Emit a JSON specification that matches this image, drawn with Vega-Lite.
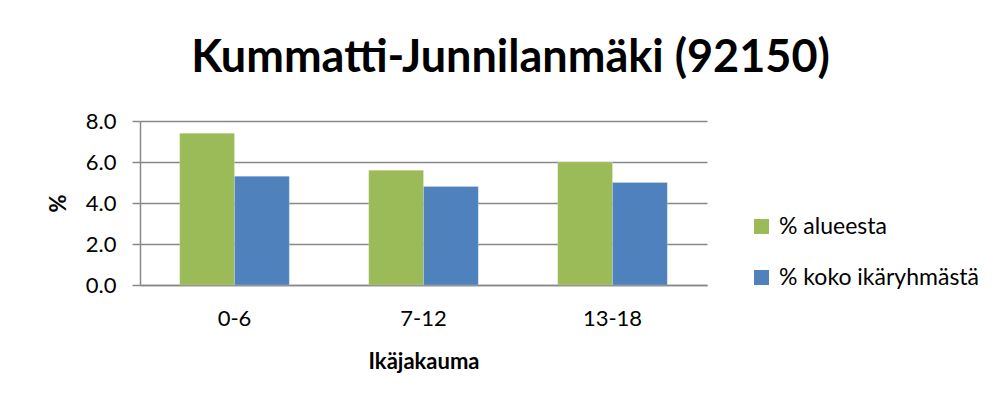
{
  "$schema": "https://vega.github.io/schema/vega-lite/v6.json",
  "width": 567,
  "height": 164,
  "autosize": {"type": "none"},
  "padding": {"left": 140, "top": 121, "right": 294, "bottom": 118},
  "background": "white",
  "title": {
    "text": "Kummatti-Junnilanmäki (92150)",
    "font": "Lato",
    "fontSize": 45,
    "fontWeight": "bold",
    "color": "#000000",
    "anchor": "middle",
    "frame": "group",
    "dx": 87,
    "offset": 29
  },
  "data": {
    "values": [
      {"age": "0-6", "series": "% alueesta", "value": 7.4},
      {"age": "0-6", "series": "% koko ikäryhmästä", "value": 5.3},
      {"age": "7-12", "series": "% alueesta", "value": 5.6},
      {"age": "7-12", "series": "% koko ikäryhmästä", "value": 4.8},
      {"age": "13-18", "series": "% alueesta", "value": 6.0},
      {"age": "13-18", "series": "% koko ikäryhmästä", "value": 5.0}
    ]
  },
  "mark": {"type": "bar", "stroke": "white", "strokeOpacity": 0.4, "strokeWidth": 0.5},
  "encoding": {
    "x": {
      "field": "age",
      "type": "nominal",
      "sort": ["0-6", "7-12", "13-18"],
      "scale": {"paddingInner": 0.42, "paddingOuter": 0.21},
      "axis": {
        "title": "Ikäjakauma",
        "labelAngle": 0,
        "labelFont": "Lato",
        "labelFontSize": 22,
        "labelColor": "#000000",
        "labelPadding": 23,
        "ticks": false,
        "domainColor": "#888888",
        "domainWidth": 1.5,
        "titleFont": "Lato",
        "titleFontSize": 22,
        "titleFontWeight": "bold",
        "titleColor": "#000000",
        "titleY": 76,
        "titleBaseline": "middle"
      }
    },
    "xOffset": {
      "field": "series",
      "type": "nominal",
      "sort": ["% alueesta", "% koko ikäryhmästä"],
      "scale": {"paddingInner": 0, "paddingOuter": 0}
    },
    "y": {
      "field": "value",
      "type": "quantitative",
      "scale": {"domain": [0, 8], "nice": false},
      "axis": {
        "title": "%",
        "values": [0, 2, 4, 6, 8],
        "format": ".1f",
        "labelFont": "Lato",
        "labelFontSize": 22,
        "labelColor": "#000000",
        "labelPadding": 16,
        "tickSize": 8,
        "tickColor": "#888888",
        "tickWidth": 1.5,
        "domainColor": "#888888",
        "domainWidth": 1.5,
        "gridColor": "#888888",
        "gridWidth": 1.5,
        "titleFont": "Lato",
        "titleFontSize": 22,
        "titleFontWeight": "bold",
        "titleColor": "#000000",
        "titleAngle": 270,
        "titleX": -82,
        "titleY": 82,
        "titleAlign": "center",
        "titleBaseline": "middle"
      }
    },
    "color": {
      "field": "series",
      "type": "nominal",
      "sort": ["% alueesta", "% koko ikäryhmästä"],
      "scale": {"range": ["#9BBB59", "#4F81BD"]},
      "legend": {
        "title": null,
        "orient": "none",
        "legendX": 610,
        "legendY": 94,
        "symbolType": "square",
        "symbolSize": 225,
        "symbolStrokeWidth": 0,
        "labelFont": "Lato",
        "labelFontSize": 23,
        "labelColor": "#000000",
        "labelOffset": 6,
        "labelLimit": 0,
        "rowPadding": 27
      }
    }
  },
  "config": {
    "view": {"stroke": null}
  }
}
